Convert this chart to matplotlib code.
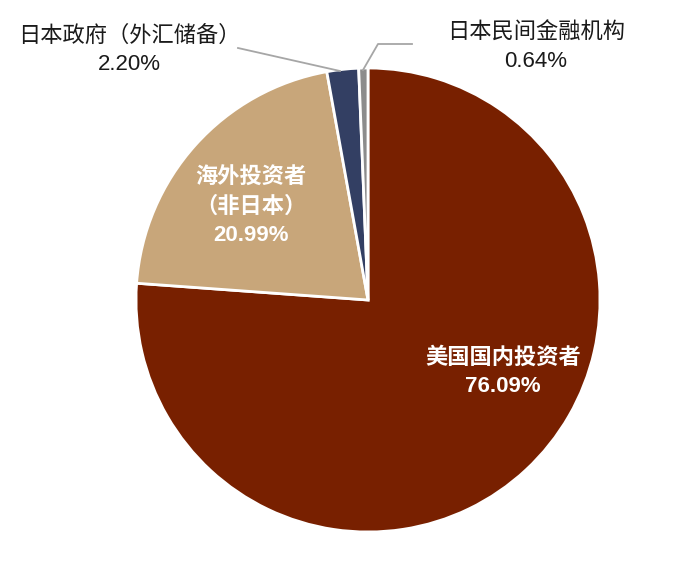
import numpy as np
import matplotlib.pyplot as plt

plt.rcParams['font.family'] = ['Liberation Sans', 'Noto Sans CJK SC', 'DejaVu Sans']

labels = ['美国国内投资者', '海外投资者\n（非日本）', '日本政府（外汇储备）', '日本民间金融机构']
values = [76.09, 20.99, 2.20, 0.64]
colors = ['#782000', '#C8A67A', '#333F63', '#8C8C8C']

fig = plt.figure(figsize=(6.75, 5.64), dpi=100)
ax = fig.add_axes([0, 0, 1, 1])

# pie in pixel coords (y flipped)
cx, cy, r = 368, 564 - 300, 232
wedges, _ = ax.pie(values, colors=colors, startangle=90, counterclock=False,
                   center=(cx, cy), radius=r, frame=True,
                   wedgeprops=dict(edgecolor='white', linewidth=2))
ax.set_xlim(0, 675)
ax.set_ylim(0, 564)
ax.set_aspect('equal')
ax.axis('off')

# labels inside
ax.text(503, 564 - 372, labels[0] + '\n' + '%.2f%%' % values[0], color='white',
        fontsize=16, fontweight='bold', ha='center', va='center', linespacing=1.45)
ax.text(251, 564 - 207, labels[1] + '\n' + '%.2f%%' % values[1], color='white',
        fontsize=16, fontweight='bold', ha='center', va='center', linespacing=1.45)

# outside labels
ax.text(129, 564 - 50, labels[2] + '\n' + '%.2f%%' % values[2], color='#1a1a1a',
        fontsize=16, ha='center', va='center', linespacing=1.45)
ax.text(536, 564 - 47, labels[3] + '\n' + '%.2f%%' % values[3], color='#1a1a1a',
        fontsize=16, ha='center', va='center', linespacing=1.45)

# leader lines
ax.plot([238, 340], [564 - 48, 564 - 71], color='#A6A6A6', lw=1.3)
ax.plot([363, 378, 412], [564 - 70, 564 - 44, 564 - 44], color='#A6A6A6', lw=1.3)

plt.savefig('out.png', dpi=100)
